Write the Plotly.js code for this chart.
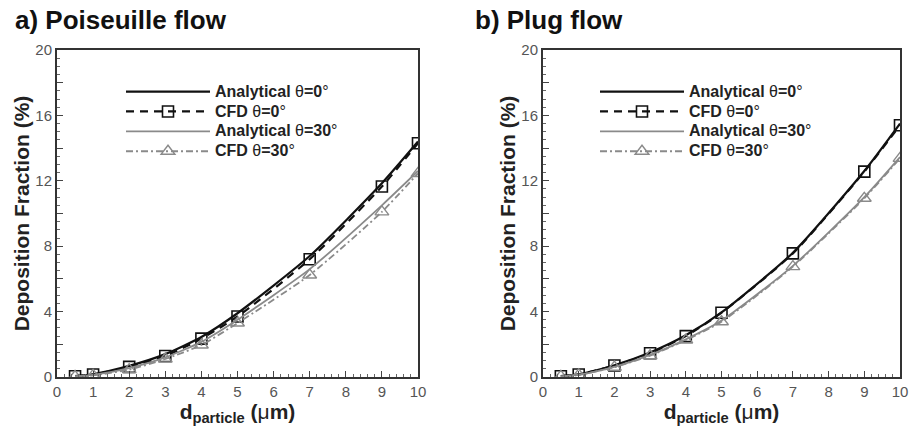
<!DOCTYPE html>
<html><head><meta charset="utf-8">
<script src="https://cdn.plot.ly/plotly-3.0.1.min.js"></script>
<style>html,body{margin:0;padding:0;background:#fff}#chart{width:913px;height:427px}</style>
</head><body><div id="chart"></div>
<script>
// particle diameters (µm)
const dParticle = [0.5, 1, 2, 3, 4, 5, 7, 9, 10];
// a) Poiseuille flow
const poisAnalytical0  = [0.05, 0.17, 0.68, 1.40, 2.45, 3.90, 7.40, 11.85, 14.40];
const poisCFD0         = [0.05, 0.15, 0.62, 1.28, 2.35, 3.70, 7.20, 11.65, 14.30];
const poisAnalytical30 = [0.04, 0.13, 0.55, 1.20, 2.15, 3.50, 6.60, 10.50, 12.60];
const poisCFD30        = [0.03, 0.10, 0.45, 1.10, 1.96, 3.30, 6.24, 10.10, 12.45];
// b) Plug flow
const plugAnalytical0  = [0.05, 0.17, 0.72, 1.50, 2.55, 3.95, 7.60, 12.60, 15.50];
const plugCFD0         = [0.05, 0.15, 0.70, 1.45, 2.50, 3.93, 7.56, 12.56, 15.40];
const plugAnalytical30 = [0.04, 0.14, 0.62, 1.35, 2.30, 3.45, 6.80, 11.00, 13.45];
const plugCFD30        = [0.04, 0.13, 0.60, 1.30, 2.26, 3.38, 6.75, 10.93, 13.37];

const seriesNames = ['Analytical θ=0°', 'CFD θ=0°', 'Analytical θ=30°', 'CFD θ=30°'];
const yTickVals = [0, 2, 4, 6, 8, 10, 12, 14, 16, 18, 20];
const yTickText = ['0', '', '4', '', '8', '', '12', '', '16', '', '20'];
const xTickVals = [0, 1, 2, 3, 4, 5, 6, 7, 8, 9, 10];

function legendLabel(name) {
  const html = name.replace('θ', '<span style="font-weight:normal">θ</span>')
                   .replace('°', '<span style="font-weight:normal">°</span>');
  return '<span style="font-size:16px">' + html + '</span>';
}

const panels = [
  {sets: [poisAnalytical0, poisCFD0, poisAnalytical30, poisCFD30], xa: 'x', ya: 'y', legend: 'legend'},
  {sets: [plugAnalytical0, plugCFD0, plugAnalytical30, plugCFD30], xa: 'x2', ya: 'y2', legend: 'legend2'}
];
const styles = [
  {mode: 'lines', line: {color: '#111', width: 2.2, dash: 'solid', shape: 'spline', smoothing: 0.6}},
  {mode: 'lines+markers', line: {color: '#111', width: 2.2, dash: '8px,6px', shape: 'spline', smoothing: 0.6},
   marker: {symbol: 'square-open', size: 11, color: '#111', line: {width: 1.6, color: '#111'}}},
  {mode: 'lines', line: {color: '#8a8a8a', width: 1.8, dash: 'solid', shape: 'spline', smoothing: 0.6}},
  {mode: 'lines+markers', line: {color: '#8a8a8a', width: 1.8, dash: '7px,3px,2px,3px', shape: 'spline', smoothing: 0.6},
   marker: {symbol: 'triangle-up-open', size: 12, color: '#8a8a8a', line: {width: 1.4, color: '#8a8a8a'}}}
];

const traces = [];
panels.forEach(p => {
  p.sets.forEach((vals, i) => {
    traces.push(Object.assign({
      type: 'scatter', x: dParticle, y: vals, name: legendLabel(seriesNames[i]),
      xaxis: p.xa, yaxis: p.ya, legend: p.legend, showlegend: true
    }, JSON.parse(JSON.stringify(styles[i]))));
  });
});

const FAM = 'Liberation Sans, Arial, sans-serif';
const tickFont = {family: FAM, size: 15, color: '#555'};
function xAxis(dom) {
  return {domain: dom, range: [0, 10], tickvals: xTickVals, ticks: 'inside', ticklen: 6, tickwidth: 1,
    tickcolor: '#444', showline: true, linecolor: '#333', linewidth: 2, mirror: true, showgrid: false,
    zeroline: false, tickfont: tickFont,
    minor: {dtick: 0.2, ticks: 'inside', ticklen: 3, tickcolor: '#666', showgrid: false},
    title: {text: '<b>d</b><sub><b>particle</b></sub><b> (</b>μ<b>m)</b>',
            font: {family: FAM, size: 21, color: '#222', weight: 'normal'}, standoff: 0}};
}
function yAxis(dom, anchor) {
  return {domain: dom, anchor: anchor, range: [0, 20], tickvals: yTickVals, ticktext: yTickText, ticks: 'inside',
    ticklen: 6, tickwidth: 1, tickcolor: '#444', showline: true, linecolor: '#333', linewidth: 2, mirror: true,
    showgrid: false, zeroline: false, tickfont: tickFont,
    minor: {dtick: 0.5, ticks: 'inside', ticklen: 3, tickcolor: '#666', showgrid: false},
    title: {text: 'Deposition Fraction (%)', font: {family: FAM, size: 21, color: '#222', weight: 'bold'}, standoff: 0}};
}
const legFont = {family: FAM, size: 13, color: '#222', weight: 'bold'};
function legend(x) {
  return {x: x, y: 0.8206, xanchor: 'left', yanchor: 'top', bgcolor: 'rgba(0,0,0,0)', font: legFont,
    itemwidth: 84, tracegroupgap: 0, traceorder: 'normal'};
}
const titleFont = {family: FAM, size: 26, color: '#111', weight: 'bold'};
const layout = {
  width: 913, height: 427, paper_bgcolor: '#fff', plot_bgcolor: '#fff',
  margin: {l: 0, r: 0, t: 0, b: 0},
  xaxis: Object.assign(xAxis([57/913, 418/913]), {anchor: 'y'}),
  yaxis: yAxis([50/427, 377/427], 'x'),
  xaxis2: Object.assign(xAxis([543/913, 900/913]), {anchor: 'y2'}),
  yaxis2: yAxis([50/427, 377/427], 'x2'),
  legend: legend(121/913),
  legend2: legend(595/913),
  annotations: [
    {text: 'a) Poiseuille flow', xref: 'paper', yref: 'paper', x: 13/913, y: 1 - 20/427, xanchor: 'left',
     yanchor: 'middle', showarrow: false, font: titleFont},
    {text: 'b) Plug flow', xref: 'paper', yref: 'paper', x: 473/913, y: 1 - 20/427, xanchor: 'left',
     yanchor: 'middle', showarrow: false, font: titleFont}
  ]
};
Plotly.newPlot('chart', traces, layout, {displayModeBar: false, staticPlot: true});
</script></body></html>
